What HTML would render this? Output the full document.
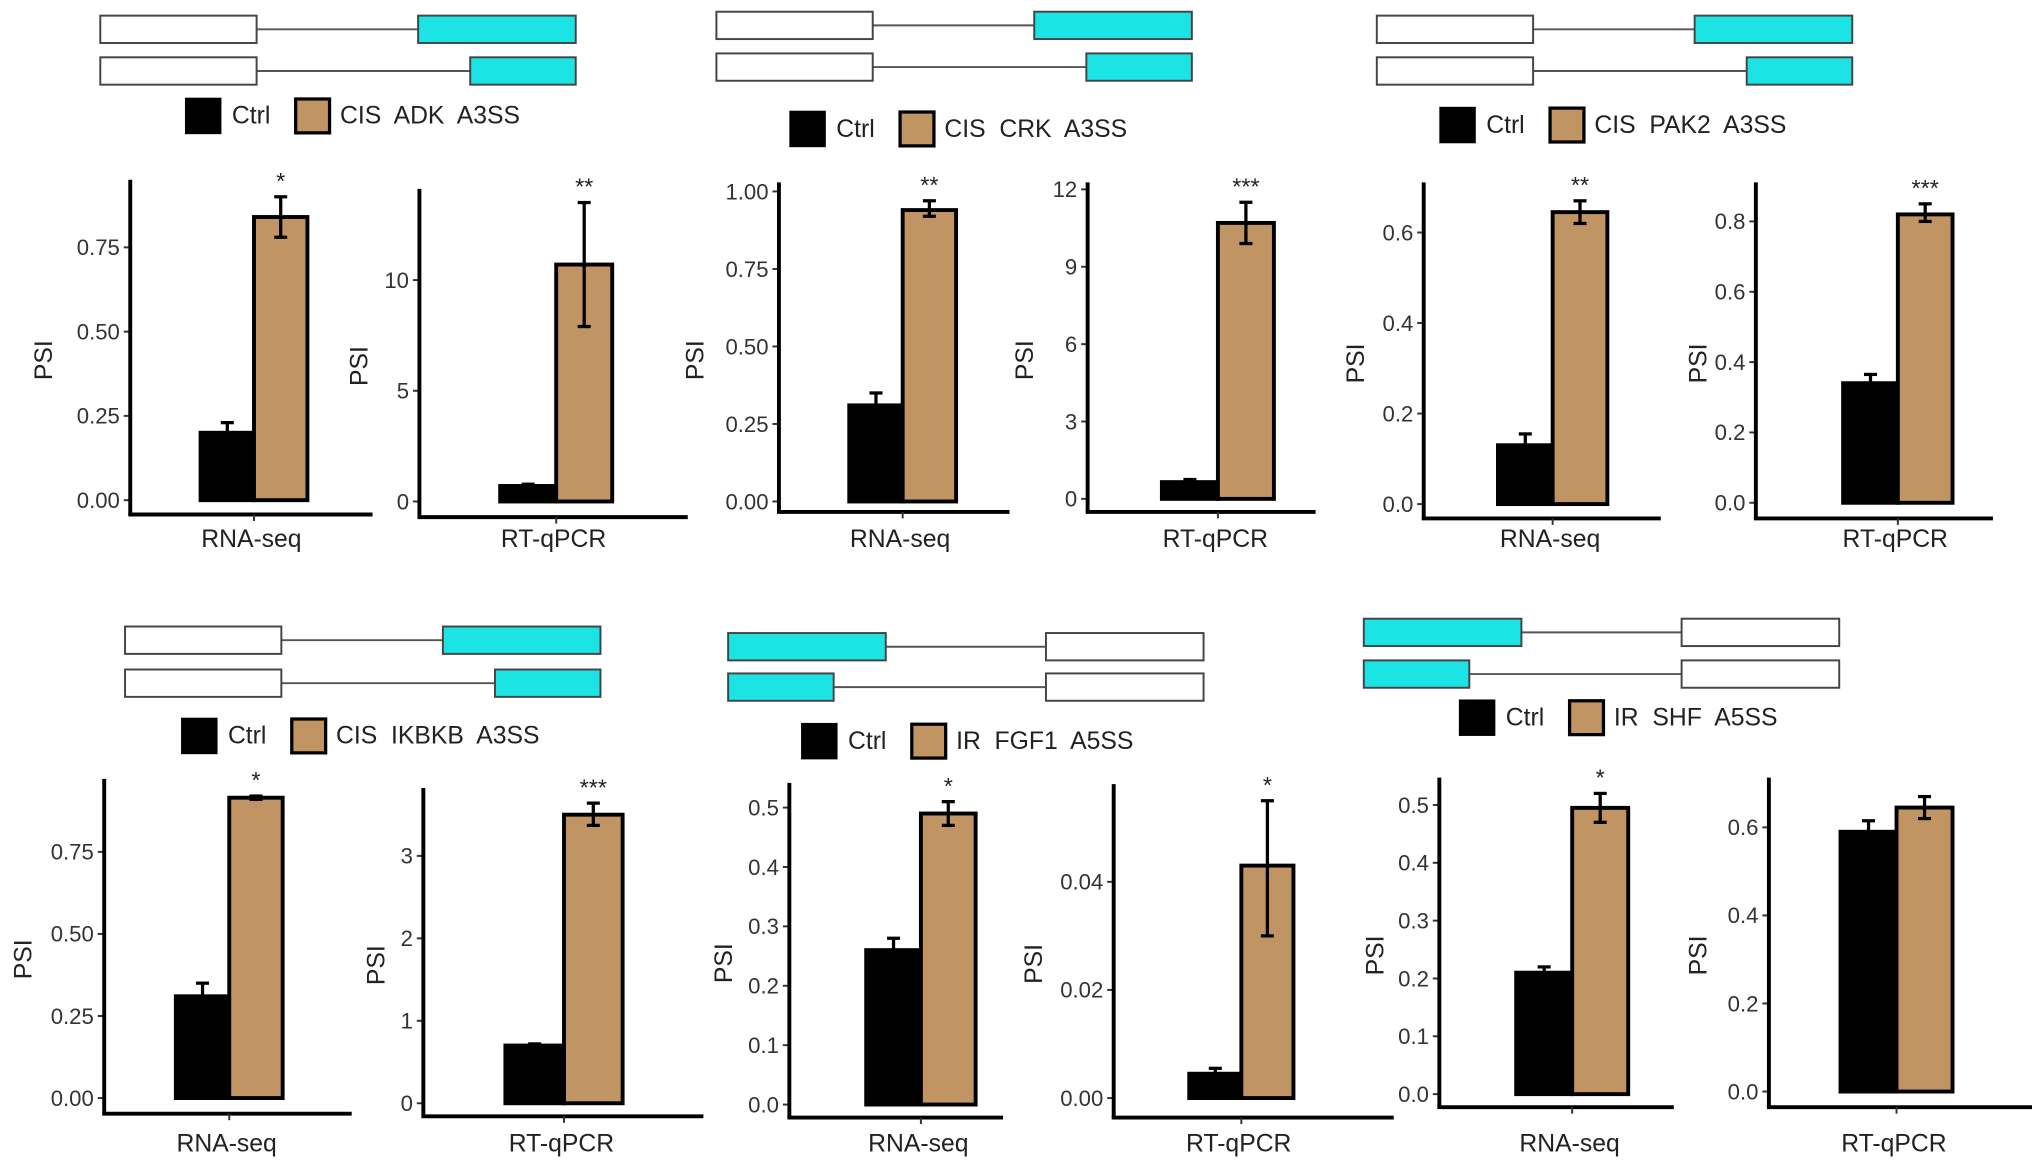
<!DOCTYPE html>
<html><head><meta charset="utf-8">
<style>
html,body{margin:0;padding:0;background:#fff;}
svg{display:block;font-family:"Liberation Sans",Arial,sans-serif;}
.pre{white-space:pre;}
</style></head>
<body>
<svg id="fig" width="2032" height="1165" viewBox="0 0 1560 894.4" preserveAspectRatio="none" xmlns="http://www.w3.org/2000/svg"></svg>
<script>
// ---- data ----
const categories = ["RNA-seq","RT-qPCR","RNA-seq","RT-qPCR","RNA-seq","RT-qPCR","RNA-seq","RT-qPCR","RNA-seq","RT-qPCR","RNA-seq","RT-qPCR"];
const ctrlValues = [0.20, 0.70, 0.31, 0.65, 0.13, 0.34, 0.31, 0.70, 0.26, 0.0045, 0.21, 0.59];
const ctrlErrHi  = [0.23, 0.78, 0.35, 0.75, 0.155, 0.365, 0.35, 0.72, 0.28, 0.0055, 0.22, 0.615];
const cisValues  = [0.84, 10.7, 0.94, 10.7, 0.645, 0.82, 0.915, 3.5, 0.49, 0.043, 0.495, 0.645];
const cisErrLo   = [0.78, 7.9, 0.92, 9.9, 0.62, 0.80, 0.91, 3.37, 0.47, 0.030, 0.47, 0.62];
const cisErrHi   = [0.90, 13.5, 0.97, 11.5, 0.67, 0.85, 0.92, 3.64, 0.51, 0.055, 0.52, 0.67];
const sigLabels  = ["*","**","**","***","**","***","*","***","*","*","*",""];
const tickValues = [
  [0,0.25,0.5,0.75],[0,5,10],[0,0.25,0.5,0.75,1],[0,3,6,9,12],[0,0.2,0.4,0.6],[0,0.2,0.4,0.6,0.8],
  [0,0.25,0.5,0.75],[0,1,2,3],[0,0.1,0.2,0.3,0.4,0.5],[0,0.02,0.04],[0,0.1,0.2,0.3,0.4,0.5],[0,0.2,0.4,0.6]];
const tickLabels = [
  ["0.00","0.25","0.50","0.75"],["0","5","10"],["0.00","0.25","0.50","0.75","1.00"],["0","3","6","9","12"],["0.0","0.2","0.4","0.6"],["0.0","0.2","0.4","0.6","0.8"],
  ["0.00","0.25","0.50","0.75"],["0","1","2","3"],["0.0","0.1","0.2","0.3","0.4","0.5"],["0.00","0.02","0.04"],["0.0","0.1","0.2","0.3","0.4","0.5"],["0.0","0.2","0.4","0.6"]];
const legendGroup = ["CIS","CIS","CIS","CIS","IR","IR"];
const legendGene  = ["ADK","CRK","PAK2","IKBKB","FGF1","SHF"];
const legendEvent = ["A3SS","A3SS","A3SS","A3SS","A5SS","A5SS"];

// ---- layout (pixel geometry, not data) ----
const layout = [
 {ax:100,top:138,bot:395,xend:286,y0:384,k:258.8,c:195,w:41,ly:420,psx:33},
 {ax:322,top:145,bot:397,xend:528,y0:385,k:17,c:427,w:43,ly:420,psx:275},
 {ax:598,top:140,bot:393,xend:775,y0:385,k:238,c:693,w:41,ly:420,psx:533},
 {ax:835,top:140,bot:393,xend:1010,y0:383,k:19.8,c:935,w:43,ly:420,psx:786},
 {ax:1093,top:140,bot:398,xend:1275,y0:387,k:347.5,c:1192,w:42,ly:420,psx:1040},
 {ax:1348,top:140,bot:398,xend:1530,y0:386,k:270,c:1457,w:42,ly:420,psx:1303},
 {ax:80,top:598,bot:855,xend:270,y0:843,k:252,c:176,w:41,ly:884,psx:17},
 {ax:325,top:605,bot:857,xend:540,y0:847,k:63.3,c:433,w:45,ly:884,psx:288},
 {ax:606,top:601,bot:858,xend:770,y0:848,k:456,c:707,w:42,ly:884,psx:555},
 {ax:855,top:602,bot:858,xend:1070,y0:843,k:4150,c:953,w:40,ly:884,psx:793},
 {ax:1105,top:597,bot:850,xend:1285,y0:840,k:444,c:1207,w:43,ly:884,psx:1055},
 {ax:1358,top:597,bot:850,xend:1560,y0:838,k:338,c:1456,w:43,ly:884,psx:1303}];
const diagrams = [
 {x:77,y1:12,y2:44,a5:false},{x:550,y1:9,y2:41,a5:false},{x:1057,y1:12,y2:44,a5:false},
 {x:96,y1:481,y2:514,a5:false},{x:559,y1:486,y2:517,a5:true},{x:1047,y1:475,y2:507,a5:true}];
const legends = [{x:142,y:75},{x:606,y:85},{x:1105,y:82},{x:139,y:551},{x:615,y:555},{x:1120,y:537}];

const NS="http://www.w3.org/2000/svg";
const svg=document.getElementById('fig');
function mk(tag,attrs,parent,text){const e=document.createElementNS(NS,tag);for(const k in attrs)e.setAttribute(k,attrs[k]);if(text!==undefined)e.textContent=text;(parent||svg).appendChild(e);return e;}
const TAN="#c09563", CYAN="#1de4e4";

diagrams.forEach((d,i)=>{
  const g=mk('g',{});
  
  
  const rows=[{y:d.y1,cw:121},{y:d.y2,cw:81}];
  rows.forEach(r=>{
    const h=21;
    if(!d.a5){
      mk('line',{x1:d.x+120,y1:r.y+h/2,x2:d.x+365-r.cw,y2:r.y+h/2,stroke:'#555','stroke-width':1.5},g);
      mk('rect',{x:d.x,y:r.y,width:120,height:h,fill:'#fff',stroke:'#444','stroke-width':1.5},g);
      mk('rect',{x:d.x+365-r.cw,y:r.y,width:r.cw,height:h,fill:CYAN,stroke:'#444','stroke-width':1.5},g);
    } else {
      mk('line',{x1:d.x+r.cw,y1:r.y+h/2,x2:d.x+244,y2:r.y+h/2,stroke:'#555','stroke-width':1.5},g);
      mk('rect',{x:d.x,y:r.y,width:r.cw,height:h,fill:CYAN,stroke:'#444','stroke-width':1.5},g);
      mk('rect',{x:d.x+244,y:r.y,width:121,height:h,fill:'#fff',stroke:'#444','stroke-width':1.5},g);
    }
  });
});

legends.forEach((l,i)=>{
  const g=mk('g',{});
  
  
  const a=mk('rect',{x:l.x,y:l.y,width:28,height:28,fill:'#000'},g);
  
  
  mk('text',{x:l.x+36,y:l.y+20,'font-size':19,fill:'#222'},g,'Ctrl');
  const b=mk('rect',{x:l.x+85,y:l.y+1,width:26,height:26,fill:TAN,stroke:'#000','stroke-width':2.5},g);
  
  
  mk('text',{x:l.x+119,y:l.y+20,'font-size':19,fill:'#222','class':'pre'},g,legendGroup[i]+'  '+legendGene[i]+'  '+legendEvent[i]);
});

layout.forEach((p,i)=>{
  const g=mk('g',{});
  
  
  const y=v=>p.y0-v*p.k;
  tickValues[i].forEach((t,j)=>{
    mk('line',{x1:p.ax-5,y1:y(t),x2:p.ax,y2:y(t),stroke:'#333','stroke-width':1.5},g);
    const tl=mk('text',{x:p.ax-8,y:y(t)+6,'font-size':17,'text-anchor':'end',fill:'#333'},g,tickLabels[i][j]);
    
    
  });
  const cb=mk('rect',{x:p.c-p.w,y:y(ctrlValues[i]),width:p.w,height:p.y0-y(ctrlValues[i]),fill:'#000',stroke:'#000','stroke-width':3},g);
  
  
  const tb=mk('rect',{x:p.c,y:y(cisValues[i]),width:p.w,height:p.y0-y(cisValues[i]),fill:TAN,stroke:'#000','stroke-width':3},g);
  
  
  const cx1=p.c-p.w/2, cx2=p.c+p.w/2;
  mk('line',{x1:cx1,y1:y(ctrlErrHi[i]),x2:cx1,y2:y(ctrlValues[i]),stroke:'#000','stroke-width':2.5},g);
  mk('line',{x1:cx1-5,y1:y(ctrlErrHi[i]),x2:cx1+5,y2:y(ctrlErrHi[i]),stroke:'#000','stroke-width':2.5},g);
  mk('line',{x1:cx2,y1:y(cisErrHi[i]),x2:cx2,y2:y(cisErrLo[i]),stroke:'#000','stroke-width':2.5},g);
  mk('line',{x1:cx2-5,y1:y(cisErrHi[i]),x2:cx2+5,y2:y(cisErrHi[i]),stroke:'#000','stroke-width':2.5},g);
  mk('line',{x1:cx2-5,y1:y(cisErrLo[i]),x2:cx2+5,y2:y(cisErrLo[i]),stroke:'#000','stroke-width':2.5},g);
  if(sigLabels[i]){
    const s=mk('text',{x:cx2,y:y(cisErrHi[i])-6,'font-size':18,'text-anchor':'middle',fill:'#222'},g,sigLabels[i]);
    
    
  }
  mk('line',{x1:p.ax,y1:p.top,x2:p.ax,y2:p.bot,stroke:'#000','stroke-width':3},g);
  mk('line',{x1:p.ax-1.5,y1:p.bot,x2:p.xend,y2:p.bot,stroke:'#000','stroke-width':3},g);
  mk('line',{x1:p.c,y1:p.bot,x2:p.c,y2:p.bot+5,stroke:'#333','stroke-width':1.5},g);
  const xl=mk('text',{x:p.c-2,y:p.ly,'font-size':19,'text-anchor':'middle',fill:'#222'},g,categories[i]);
  
  
  const ym=(p.top+p.bot)/2;
  const yl=mk('text',{x:0,y:0,'font-size':19,'text-anchor':'middle',fill:'#222',transform:'translate('+(p.psx+7)+','+(ym+10)+') rotate(-90)'},g,'PSI');
  
  
});
</script>
</body></html>
